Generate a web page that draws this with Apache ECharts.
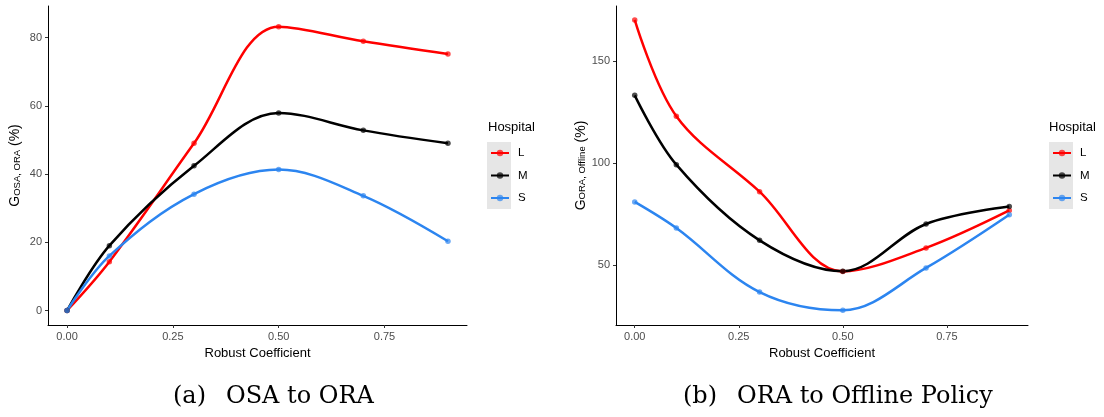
<!DOCTYPE html>
<html><head><meta charset="utf-8">
<script src="https://cdn.jsdelivr.net/npm/echarts@6/dist/echarts.min.js"></script>
<style>html,body{margin:0;padding:0;background:#fff;}#c{width:1104px;height:417px;}</style>
</head><body><div id="c"></div>
<script>
const xVals = [0, 0.1, 0.3, 0.5, 0.7, 0.9];
const osaL = [0, 14.3, 49, 83.2, 78.9, 75.2];
const osaM = [0, 19, 42.4, 57.9, 52.8, 49];
const osaS = [0, 16, 34.1, 41.3, 33.6, 20.3];
const offL = [170, 122.9, 86, 47, 58.5, 76.8];
const offM = [133.1, 99.2, 62.2, 47.1, 70.2, 78.7];
const offS = [81, 68.2, 36.9, 28, 48.7, 74.7];
const xTicks = [0, 0.25, 0.5, 0.75];
const yTicksA = [0, 20, 40, 60, 80];
const yTicksB = [50, 100, 150];
const names = ['L', 'M', 'S'];
const colors = {L: '#FF0000', M: '#000000', S: '#2C85F0'};

const chart = echarts.init(document.getElementById('c'));
const pair = a => xVals.map((x, i) => [x, a[i]]);
function ser(name, arr, idx) {
  return {
    type: 'line', name: name, xAxisIndex: idx, yAxisIndex: idx,
    data: pair(arr), smooth: 0.35, symbol: 'circle', symbolSize: 5.5,
    lineStyle: {color: colors[name], width: 2.5},
    itemStyle: {color: colors[name], opacity: 0.7},
    emphasis: {disabled: true}
  };
}
function xAx(idx) {
  return {
    gridIndex: idx, type: 'value', min: -0.045, max: 0.945,
    name: 'Robust Coefficient', nameLocation: 'middle', nameGap: 21,
    nameTextStyle: {color: '#000', fontSize: 13, fontFamily: 'Liberation Sans'},
    axisLine: {show: true, onZero: false, lineStyle: {color: '#000', width: 1}},
    axisTick: {show: true, customValues: xTicks, length: 3, lineStyle: {color: '#333'}},
    axisLabel: {customValues: xTicks, formatter: v => v.toFixed(2), color: '#4d4d4d', fontSize: 11, margin: 6, fontFamily: 'Liberation Sans'},
    splitLine: {show: false}
  };
}
function yAx(idx, min, max, ticks, nm) {
  return {
    gridIndex: idx, type: 'value', min: min, max: max,
    name: nm, nameLocation: 'middle', nameRotate: 90, nameGap: 26,
    nameTextStyle: {
      color: '#000', fontFamily: 'Liberation Sans',
      rich: {
        g: {fontSize: 14, color: '#000', fontFamily: 'Liberation Sans', lineHeight: 16, verticalAlign: 'bottom'},
        s: {fontSize: 9.5, color: '#000', fontFamily: 'Liberation Sans', lineHeight: 16, verticalAlign: 'bottom', padding: [4, 0, 0, 0]}
      }
    },
    axisLine: {show: true, onZero: false, lineStyle: {color: '#000', width: 1}},
    axisTick: {show: true, customValues: ticks, length: 3, lineStyle: {color: '#333'}},
    axisLabel: {customValues: ticks, color: '#4d4d4d', fontSize: 11, margin: 6, fontFamily: 'Liberation Sans'},
    splitLine: {show: false}
  };
}
function leg(left) {
  return {
    data: names, orient: 'vertical', left: left, top: 146, padding: 0,
    itemWidth: 18, itemHeight: 8, itemGap: 8.5,
    textStyle: {color: '#000', fontSize: 11.5, lineHeight: 14, height: 14, fontFamily: 'Liberation Sans', padding: [0, 0, 0, 4]},
    selectedMode: false
  };
}
chart.setOption({
  animation: false,
  grid: [
    {left: 48, top: 6, width: 419, height: 319},
    {left: 616, top: 6, width: 412, height: 319}
  ],
  xAxis: [xAx(0), xAx(1)],
  yAxis: [
    yAx(0, -4.25, 89.25, yTicksA, '{g|G}{s|OSA, ORA}{g| (%)}'),
    yAx(1, 20.8, 176.8, yTicksB, '{g|G}{s|ORA, Offline}{g| (%)}')
  ],
  legend: [leg(490), leg(1052)],
  graphic: [
    {type: 'rect', left: 487, top: 142, shape: {width: 24, height: 67}, style: {fill: '#E6E6E6'}, z: -1},
    {type: 'rect', left: 1049, top: 142, shape: {width: 24, height: 67}, style: {fill: '#E6E6E6'}, z: -1},
    {type: 'text', left: 488, top: 121, style: {text: 'Hospital', fontSize: 13, fontFamily: 'Liberation Sans', fill: '#000'}},
    {type: 'text', left: 1049, top: 121, style: {text: 'Hospital', fontSize: 13, fontFamily: 'Liberation Sans', fill: '#000'}},
    {type: 'text', x: 173, y: 397, style: {text: '(a)', fontSize: 24, fontFamily: 'DejaVu Serif', fill: '#000', align: 'left', verticalAlign: 'middle'}},
    {type: 'text', x: 226, y: 397, style: {text: 'OSA to ORA', fontSize: 24, fontFamily: 'DejaVu Serif', fill: '#000', align: 'left', verticalAlign: 'middle'}},
    {type: 'text', x: 683, y: 397, style: {text: '(b)', fontSize: 24, fontFamily: 'DejaVu Serif', fill: '#000', align: 'left', verticalAlign: 'middle'}},
    {type: 'text', x: 737, y: 397, style: {text: 'ORA to Offline Policy', fontSize: 24, fontFamily: 'DejaVu Serif', fill: '#000', align: 'left', verticalAlign: 'middle'}}
  ],
  series: [
    ser('L', osaL, 0), ser('M', osaM, 0), ser('S', osaS, 0),
    ser('L', offL, 1), ser('M', offM, 1), ser('S', offS, 1)
  ]
});
</script></body></html>
